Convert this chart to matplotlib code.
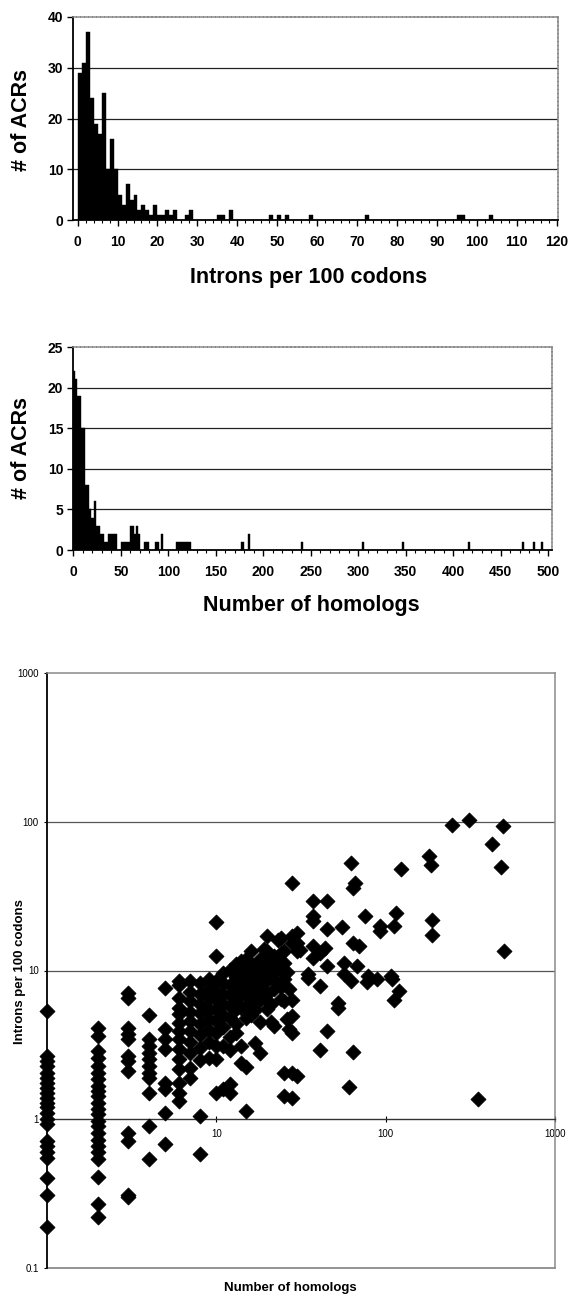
import matplotlib
matplotlib.use('Agg')
import matplotlib.pyplot as plt
from matplotlib.ticker import MultipleLocator, FixedLocator, NullLocator

plt.rcParams['font.family'] = ['Liberation Sans', 'DejaVu Sans']

# ---------------- data ----------------
# Histogram 1: introns per 100 codons (bin left edges, counts)
intron_bins = [0, 1, 2, 3, 4, 5, 6, 7, 8, 9, 10, 11, 12, 13, 14, 15, 16, 17, 18, 19,
               20, 21, 22, 23, 24, 27, 28, 35, 36, 38, 48, 50, 52, 58, 72, 95, 96, 103]
intron_counts = [29, 31, 37, 24, 19, 17, 25, 10, 16, 10, 5, 3, 7, 4, 5, 2, 3, 2, 1, 3,
                 1, 1, 2, 1, 2, 1, 2, 1, 1, 2, 1, 1, 1, 1, 1, 1, 1, 1]

# Histogram 2: number of homologs (bin left edges, counts; bin width 2)
homolog_bins = [0, 2, 4, 6, 8, 10, 12, 14, 16, 18, 20, 22, 24, 26, 28, 30, 32, 34, 36, 38,
                40, 42, 44, 50, 52, 54, 56, 58, 60, 62, 64, 66, 68, 74, 76, 78, 86, 88, 92,
                108, 110, 112, 114, 116, 118, 120, 122, 176, 178, 184,
                240, 304, 346, 416, 472, 484, 492]
homolog_counts = [22, 21, 19, 19, 15, 15, 8, 8, 5, 4, 4, 6, 3, 3, 2, 2, 1, 1, 2, 2,
                  2, 2, 2, 1, 1, 1, 1, 1, 3, 3, 2, 3, 2, 1, 1, 1, 1, 1, 2,
                  1, 1, 1, 1, 1, 1, 1, 1, 1, 1, 2,
                  1, 1, 1, 1, 1, 1, 1]

# Scatter: homologs (x) vs introns per 100 codons (y), grouped by x value
scatter_groups = {
    1: [5.33, 2.66, 2.46, 2.28, 2.06, 1.90, 1.76, 1.63, 1.51, 1.40, 1.29, 1.20, 1.11,
        1.0, 0.93, 0.71, 0.66, 0.60, 0.55, 0.40, 0.31, 0.19],
    2: [4.12, 3.62, 2.87, 2.59, 2.28, 2.06, 1.86, 1.67, 1.55, 1.43, 1.29, 1.17, 1.08,
        0.97, 0.90, 0.81, 0.73, 0.66, 0.60, 0.54, 0.41, 0.27, 0.22],
    3: [7.08, 6.56, 4.12, 3.72, 3.44, 2.66, 2.46, 2.11, 0.81, 0.71, 0.31, 0.30],
    4: [4.99, 3.44, 3.10, 2.80, 2.53, 2.28, 2.06, 1.90, 1.51, 0.90, 0.54],
    5: [7.65, 4.02, 3.44, 2.95, 1.76, 1.59, 1.11, 0.68],
    6: [8.48, 8.05, 6.56, 5.62, 5.07, 4.46, 3.91, 3.44, 2.95, 2.53, 2.17, 1.76, 1.51, 1.33],
    7: [8.5, 7.2, 6.2, 5.3, 4.6, 3.9, 3.3, 2.8, 2.2, 1.9],
    8: [8.26, 7.0, 6.0, 5.2, 4.4, 3.7, 3.0, 2.5, 1.05, 0.58],
    9: [8.7, 7.5, 6.5, 5.5, 4.7, 4.0, 3.3, 2.6],
    10: [21.3, 12.5, 8.5, 7.3, 6.3, 5.4, 4.6, 3.82, 3.1, 2.53, 1.51],
    11: [9.6, 8.26, 7.0, 6.0, 5.0, 4.2, 3.1, 1.6],
    12: [10.1, 8.0, 6.8, 5.8, 4.8, 3.6, 2.9, 1.72, 1.51],
    13: [11.0, 9.0, 7.5, 6.4, 5.5, 4.4, 3.8],
    14: [11.5, 9.6, 8.0, 6.8, 5.6, 3.1, 2.4],
    15: [12.0, 10.0, 8.5, 7.0, 5.8, 4.8, 2.23, 1.14],
    16: [13.5, 11.0, 9.0, 7.5, 6.2, 5.0],
    17: [10.7, 8.8, 7.0, 5.4, 3.27],
    18: [12.0, 9.5, 7.8, 6.3, 4.5, 2.8],
    19: [14.0, 10.5, 8.2, 6.6],
    20: [17.0, 13.5, 10.7, 8.8, 7.0, 5.5],
    21: [12.0, 9.0, 6.0, 4.5],
    22: [12.5, 9.8, 7.5, 4.23],
    23: [16.1, 11.0, 8.3],
    24: [16.5, 13.2, 10.1, 7.8, 6.4],
    25: [13.5, 11.3, 8.8, 6.2, 2.06, 1.43],
    26: [9.8, 4.69],
    27: [7.5, 4.02],
    28: [39.0, 17.0, 15.3, 6.38, 4.93, 3.82, 2.06, 1.40],
    30: [17.9, 15.3, 13.5, 1.95],
    31: [13.8],
    35: [9.4, 8.93],
    37: [29.2, 23.1, 21.4, 14.6, 12.2],
    41: [13.1, 7.85, 2.92],
    44: [14.2],
    45: [29.2, 19.0, 10.7, 3.91],
    52: [6.07, 5.62],
    55: [19.5],
    57: [11.3, 9.4],
    61: [1.66],
    62: [52.8, 8.48],
    64: [35.9, 15.3, 2.83],
    66: [38.8],
    68: [10.7],
    70: [14.6],
    76: [23.4],
    78: [8.35],
    79: [9.16],
    89: [8.71],
    93: [19.8, 18.4],
    107: [9.16],
    109: [8.71],
    112: [19.8, 6.38],
    115: [24.4],
    120: [7.26],
    123: [48.2],
    180: [59.1],
    185: [51.5],
    189: [22.0, 17.2],
    245: [95.5],
    310: [103.0],
    349: [1.36],
    422: [71.2],
    479: [49.7],
    490: [93.0],
    497: [13.5],
}
scatter_x = [x for x, ys in scatter_groups.items() for _ in ys]
scatter_y = [y for ys in scatter_groups.values() for y in ys]

hist1_yticks = [0, 10, 20, 30, 40]
hist1_xticks = list(range(0, 121, 10))
hist2_yticks = [0, 5, 10, 15, 20, 25]
hist2_xticks = list(range(0, 501, 50))

# ---------------- figure ----------------
W, H = 570, 1297
fig = plt.figure(figsize=(W / 100, H / 100), dpi=100)
fig.patch.set_facecolor('white')

GRAY = '#8a8a8a'


def style_hist(ax):
    for s in ['left', 'bottom']:
        ax.spines[s].set_color('black')
        ax.spines[s].set_linewidth(1.3)
    for s in ['top', 'right']:
        ax.spines[s].set_color(GRAY)
        ax.spines[s].set_linewidth(1.1)
        ax.spines[s].set_linestyle((0, (2, 0.6)))
    ax.tick_params(axis='both', which='major', direction='out', length=4, width=1,
                   labelsize=10, color='black')
    ax.tick_params(axis='x', which='minor', direction='out', length=2.5, width=0.8)
    ax.tick_params(axis='x', which='major', pad=7)
    ax.tick_params(axis='y', which='major', pad=3)
    for lab in ax.get_xticklabels() + ax.get_yticklabels():
        lab.set_fontweight('bold')


# Histogram 1
ax1 = fig.add_axes([73 / W, 1 - 220 / H, 485 / W, 203 / H])
ax1.bar(intron_bins, intron_counts, width=1, align='edge', color='black',
        edgecolor='black', linewidth=0.3, zorder=3)
ax1.set_xlim(-1.15, 120.3)
ax1.set_ylim(0, 40)
ax1.set_yticks(hist1_yticks)
ax1.set_xticks(hist1_xticks)
ax1.xaxis.set_minor_locator(MultipleLocator(2))
for y in hist1_yticks[1:-1]:
    ax1.axhline(y, color='#222222', lw=0.9, zorder=1)
style_hist(ax1)
fig.text(22 / W, 1 - 120 / H, '# of ACRs', fontsize=15.5, fontweight='bold',
         rotation=90, ha='center', va='center')
fig.text(309 / W, 1 - 278 / H, 'Introns per 100 codons', fontsize=15.5,
         fontweight='bold', ha='center', va='center')

# Histogram 2
ax2 = fig.add_axes([73 / W, 1 - 550 / H, 479 / W, 203 / H])
ax2.bar(homolog_bins, homolog_counts, width=2, align='edge', color='black',
        edgecolor='black', linewidth=0.3, zorder=3)
ax2.set_xlim(-0.5, 504)
ax2.set_ylim(0, 25)
ax2.set_yticks(hist2_yticks)
ax2.set_xticks(hist2_xticks)
ax2.xaxis.set_minor_locator(MultipleLocator(10))
for y in hist2_yticks[1:-1]:
    ax2.axhline(y, color='#222222', lw=0.9, zorder=1)
style_hist(ax2)
fig.text(22 / W, 1 - 448 / H, '# of ACRs', fontsize=15.5, fontweight='bold',
         rotation=90, ha='center', va='center')
fig.text(311 / W, 1 - 606 / H, 'Number of homologs', fontsize=15.5,
         fontweight='bold', ha='center', va='center')

# Scatter
ax3 = fig.add_axes([47 / W, 1 - 1268 / H, 508 / W, 595 / H])
ax3.set_xscale('log')
ax3.set_yscale('log')
ax3.set_xlim(1, 1000)
ax3.set_ylim(0.1, 1000)
ax3.scatter(scatter_x, scatter_y, marker='D', s=58, color='black', linewidths=0.6,
            edgecolors='black', zorder=4, clip_on=False)
for y in [10, 100]:
    ax3.axhline(y, color='#555555', lw=0.9, zorder=1)
ax3.spines['bottom'].set_position(('data', 1))
ax3.spines['bottom'].set_color('#333333')
ax3.spines['bottom'].set_linewidth(1.0)
ax3.spines['left'].set_color('black')
ax3.spines['left'].set_linewidth(1.3)
for s in ['top', 'right']:
    ax3.spines[s].set_color(GRAY)
    ax3.spines[s].set_linewidth(1.1)
ax3.plot([0, 1], [0, 0], transform=ax3.transAxes, color=GRAY, lw=1.3,
         clip_on=False, zorder=2)
ax3.xaxis.set_major_locator(FixedLocator([10, 100, 1000]))
ax3.xaxis.set_minor_locator(NullLocator())
ax3.yaxis.set_major_locator(FixedLocator([0.1, 1, 10, 100, 1000]))
ax3.yaxis.set_minor_locator(NullLocator())
ax3.set_xticklabels(['10', '100', '1000'])
ax3.set_yticklabels(['0.1', '1', '10', '100', '1000'])
ax3.tick_params(axis='x', direction='inout', length=4, width=0.8, labelsize=7, pad=5)
ax3.tick_params(axis='y', direction='out', length=2, width=0.8, labelsize=7, pad=4)
fig.text(20 / W, 1 - 972 / H, 'Introns per 100 codons', fontsize=9.5,
         fontweight='bold', rotation=90, ha='center', va='center')
fig.text(290 / W, 1 - 1288 / H, 'Number of homologs', fontsize=9.5,
         fontweight='bold', ha='center', va='center')

fig.savefig('out.png', dpi=100, facecolor='white')
